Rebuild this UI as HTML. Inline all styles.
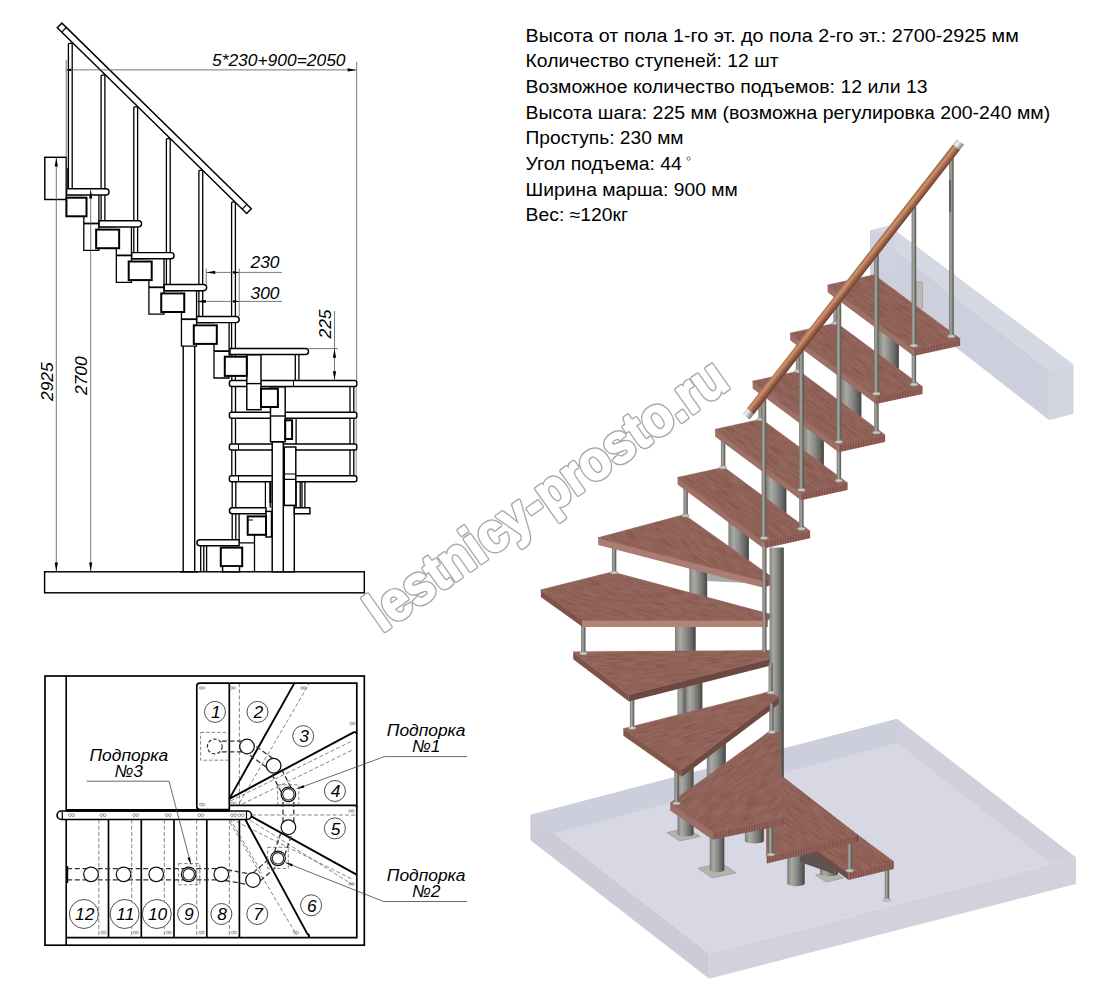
<!DOCTYPE html>
<html><head><meta charset="utf-8"><title>Лестница</title>
<style>
html,body{margin:0;padding:0;background:#fff;}
body{width:1094px;height:993px;overflow:hidden;font-family:"Liberation Sans",sans-serif;}
svg{display:block;}
text{font-family:"Liberation Sans",sans-serif;}
</style></head><body>
<svg width="1094" height="993" viewBox="0 0 1094 993">
<rect width="1094" height="993" fill="#fff"/>
<defs>
<linearGradient id="cyl" x1="0" y1="0" x2="1" y2="0"><stop offset="0" stop-color="#7e7e7a"/><stop offset="0.25" stop-color="#aaaaa5"/><stop offset="0.5" stop-color="#8f8f8b"/><stop offset="0.8" stop-color="#676764"/><stop offset="1" stop-color="#444442"/></linearGradient>
<linearGradient id="bal" x1="0" y1="0" x2="1" y2="0"><stop offset="0" stop-color="#72726e"/><stop offset="0.4" stop-color="#a9a9a3"/><stop offset="0.7" stop-color="#7a7a76"/><stop offset="1" stop-color="#4d4d4a"/></linearGradient>
<linearGradient id="rail" gradientUnits="userSpaceOnUse" x1="956.4" y1="139.6" x2="963.8" y2="145.4"><stop offset="0" stop-color="#8c5640"/><stop offset="0.33" stop-color="#d0956c"/><stop offset="0.6" stop-color="#a96a50"/><stop offset="1" stop-color="#6f3f2e"/></linearGradient>
<linearGradient id="cap" gradientUnits="userSpaceOnUse" x1="956.4" y1="139.6" x2="963.8" y2="145.4"><stop offset="0" stop-color="#b8b8b4"/><stop offset="0.35" stop-color="#f2f2ee"/><stop offset="1" stop-color="#7e7e7a"/></linearGradient>
<linearGradient id="woodg" x1="0" y1="0" x2="1" y2="1"><stop offset="0" stop-color="#976a62"/><stop offset="1" stop-color="#90635b"/></linearGradient>
<filter id="wood" x="0" y="0" width="100%" height="100%" color-interpolation-filters="sRGB"><feTurbulence type="fractalNoise" baseFrequency="0.06 0.7" numOctaves="2" seed="4" result="n"/><feColorMatrix in="n" type="matrix" values="0 0 0 0 0.48  0 0 0 0 0.30  0 0 0 0 0.22  0 0 0 1.5 -0.6" result="sp"/><feComposite in="sp" in2="SourceGraphic" operator="in" result="sp2"/><feMerge><feMergeNode in="SourceGraphic"/><feMergeNode in="sp2"/></feMerge></filter>
<pattern id="grain" width="2.6" height="8" patternUnits="userSpaceOnUse"><rect width="2.6" height="8" fill="#94625a"/><rect width="1" height="8" fill="#7c4e46"/></pattern>
<clipPath id="floorclip"><polygon points="530.3,814.8 897.1,718.7 1076,857.5 709.2,953.6"/></clipPath>
<clipPath id="tipclip"><rect x="764" y="680" width="30" height="170"/></clipPath>
</defs>
<g id="v3d" shape-rendering="geometricPrecision">
<polygon points="870.1,230.2 1049.3,370.3 1049.3,420.3 870.1,280.4" fill="#cdcfdd"/>
<polygon points="870.1,230.2 888.7,225.4 1073.5,364.3 1049.3,370.3" fill="#d5d7e3"/>
<polygon points="1049.3,370.3 1073.5,364.3 1073.5,413.8 1049.3,420.3" fill="#d2d4de"/>
<polygon points="870.1,230.2 894.7,236.5 894.7,272.5 870.1,272.5" fill="#cfd2e0"/>
<rect x="916.4" y="282" width="6.2" height="26" fill="#b9b9b5" stroke="#8d8d89" stroke-width="0.5"/>
<polygon points="530.3,814.8 709.2,953.6 709.2,978.7 530.3,839.9" fill="#cbccd8"/>
<polygon points="709.2,953.6 1076,857.5 1076,884 709.2,978.7" fill="#d1d2dc"/>
<polygon points="530.3,814.8 897.1,718.7 1076,857.5 709.2,953.6" fill="#d7d8e3"/>
<g clip-path="url(#floorclip)">
<polygon points="530.3,814.8 897.1,718.7 897.1,742.7 530.3,839.8" fill="#cdcedb"/>
<polygon points="897.1,718.7 1076,857.5 1076,883.5 897.1,742.7" fill="#cfd0dc"/>
</g>
<polygon points="667,832.5 687.5,828 700,836.5 679.5,841" fill="#b4b4ae" stroke="#8e8e88" stroke-width="0.6"/>
<polygon points="698,868.2 721.6,863 736,872.8 712.4,878" fill="#b4b4ae" stroke="#8e8e88" stroke-width="0.6"/>
<polygon points="815.5,874.9 832.9,871 843.5,878.1 826.1,882" fill="#b4b4ae" stroke="#8e8e88" stroke-width="0.6"/>
<path d="M820 866V874A9 2 0 0 0 838 874V866Z" fill="url(#cyl)"/>
<path d="M787.2 835V884A8.8 2.5 0 0 0 804.7 884V835Z" fill="url(#cyl)"/>
<path d="M677.5 760V834.5A8.1 2.2 0 0 0 693.6 834.5V760Z" fill="url(#cyl)"/>
<path d="M709.7 815V870A7.3 2.2 0 0 0 724.3 870V815Z" fill="url(#cyl)"/>
<path d="M744.8 815V841A9.5 2.5 0 0 0 763.8 841V815Z" fill="url(#cyl)"/>
<rect x="706.8" y="725" width="19" height="67" fill="url(#cyl)"/>
<rect x="677.5" y="662" width="9" height="64" fill="url(#cyl)"/>
<rect x="685.5" y="662" width="16.9" height="64" fill="url(#cyl)"/>
<rect x="675" y="603" width="20.7" height="65" fill="url(#cyl)"/>
<rect x="689.3" y="548" width="17.9" height="64" fill="url(#cyl)"/>
<polygon points="707.2,571.5 742,578.5 758,583.5 707.2,581" fill="#a9a9a4"/>
<rect x="878.4" y="310.1" width="20.5" height="77" fill="url(#cyl)"/>
<rect x="840.9" y="358.2" width="20.5" height="77" fill="url(#cyl)"/>
<rect x="803.4" y="406.3" width="20.5" height="77" fill="url(#cyl)"/>
<rect x="765.9" y="454.4" width="20.5" height="77" fill="url(#cyl)"/>
<rect x="728.4" y="502.5" width="20.5" height="77" fill="url(#cyl)"/>
<rect x="884.8" y="868" width="4.4" height="32" fill="url(#bal)"/><ellipse cx="887" cy="900" rx="3.8" ry="1.6" fill="#c9c9c4" stroke="#8a8a86" stroke-width="0.5"/>
<polygon points="800,840 834,866 834,874 800,862" fill="#5d5350"/>
<polygon points="762.6,809.1 848.6,872.9 848.6,880 762.6,816.2" fill="#6b4c47"/><polygon points="848.6,872.9 893.9,861.8 893.9,868.9 848.6,880" fill="url(#grain)"/><polygon points="762.6,809.1 807.9,798 893.9,861.8 848.6,872.9" fill="#94675f" stroke="#94675f" stroke-width="0.7"/><g transform="rotate(36.6)"><polygon points="1094.5,195.4 1124.3,159.5 1231.4,159.5 1201.6,195.4" fill="#94675f" filter="url(#wood)"/></g><path d="M774.8 806.1L860.8 869.9" stroke="#7a4a44" stroke-opacity="0.35" stroke-width="0.8"/><path d="M786.2 803.3L872.2 867.1" stroke="#7a4a44" stroke-opacity="0.35" stroke-width="0.8"/><path d="M797 800.7L883 864.5" stroke="#7a4a44" stroke-opacity="0.35" stroke-width="0.8"/>
<rect x="847.6" y="842" width="4.4" height="28.6" fill="url(#bal)"/><ellipse cx="849.8" cy="870.6" rx="3.8" ry="1.6" fill="#c9c9c4" stroke="#8a8a86" stroke-width="0.5"/>
<polygon points="766.7,856.5 857.4,834.9 857.4,842 766.7,863.6" fill="url(#grain)"/><polygon points="766.7,812 766.7,856.5 766.7,863.6 766.7,819.1" fill="#9d6f67"/><polygon points="766.7,812 782.8,777 857.4,834.9 766.7,856.5" fill="#94675f" stroke="#94675f" stroke-width="0.7"/><g transform="rotate(37.8)"><polygon points="1103.5,171.4 1094.8,133.9 1189.2,133.9 1130.8,206.5" fill="#94675f" filter="url(#wood)"/></g>
<path d="M857.4 834.9V842" stroke="#5c3b37" stroke-width="1"/>
<rect x="768.6" y="824" width="4.4" height="30.5" fill="url(#bal)"/><ellipse cx="770.8" cy="854.5" rx="3.8" ry="1.6" fill="#c9c9c4" stroke="#8a8a86" stroke-width="0.5"/>
<polygon points="670.2,803.3 712.6,832.6 712.6,839.7 670.2,810.4" fill="#9d6f67"/><polygon points="712.6,832.6 782.8,818 782.8,825.1 712.6,839.7" fill="url(#grain)"/><polygon points="670.2,803.3 769.6,731.7 779,733.1 782.8,818 712.6,832.6" fill="#94675f" stroke="#94675f" stroke-width="0.7"/><g transform="rotate(-35.8)"><polygon points="74.3,1043.5 196.8,1043.5 203.6,1050.2 157.1,1121.3 91.6,1092.1" fill="#94675f" filter="url(#wood)"/></g>
<path d="M779 733.1L782.8 818V824.6" stroke="#5c3b37" stroke-width="1" fill="none"/>
<rect x="674.3" y="772" width="4.4" height="31.3" fill="url(#bal)"/><ellipse cx="676.5" cy="803.3" rx="3.8" ry="1.6" fill="#c9c9c4" stroke="#8a8a86" stroke-width="0.5"/>
<polygon points="623.4,728.7 681.9,769.7 681.9,776.8 623.4,735.8" fill="#83564d"/><polygon points="681.9,769.7 779,696.6 779,703.7 681.9,776.8" fill="#714943"/><polygon points="623.4,728.7 768.2,692.2 779,696.6 681.9,769.7" fill="#94675f" stroke="#94675f" stroke-width="0.7"/><g transform="rotate(-14.1)"><polygon points="426.4,859 575.7,859 585.1,865.9 473.1,913" fill="#94675f" filter="url(#wood)"/></g>
<rect x="629.9" y="699" width="4.4" height="28.9" fill="url(#bal)"/><ellipse cx="632.1" cy="727.9" rx="3.8" ry="1.6" fill="#c9c9c4" stroke="#8a8a86" stroke-width="0.5"/>
<polygon points="573.2,652.1 628.9,694.5 628.9,701.6 573.2,659.2" fill="#80534a"/><polygon points="628.9,694.5 776.1,657.2 776.1,664.3 628.9,701.6" fill="#6f4741"/><polygon points="573.2,652.1 775.3,650.8 776.1,657.2 628.9,694.5" fill="#94675f" stroke="#94675f" stroke-width="0.7"/><g transform="rotate(-0.4)"><polygon points="568.9,655.8 771.1,655.8 771.8,662.2 624.4,698.6" fill="#94675f" filter="url(#wood)"/></g>
<rect x="581.1" y="625" width="4.4" height="28.4" fill="url(#bal)"/><ellipse cx="583.3" cy="653.4" rx="3.8" ry="1.6" fill="#c9c9c4" stroke="#8a8a86" stroke-width="0.5"/>
<polygon points="540.8,589.9 582.7,620 582.7,627.1 540.8,597" fill="#80534a"/><polygon points="582.7,620 768,620 768,627.1 582.7,627.1" fill="#b48472"/><polygon points="540.8,589.9 612.2,572 772.7,614.9 768,620 582.7,620" fill="#94675f" stroke="#94675f" stroke-width="0.7"/><g transform="rotate(15)"><polygon points="674.8,430.2 739.1,394.5 905.3,394.5 902.1,400.7 723,448.5" fill="#94675f" filter="url(#wood)"/></g>
<rect x="611.9" y="545" width="4.4" height="27.5" fill="url(#bal)"/><ellipse cx="614.1" cy="572.5" rx="3.8" ry="1.6" fill="#c9c9c4" stroke="#8a8a86" stroke-width="0.5"/>
<polygon points="598.1,537.8 762.5,580.5 762.5,587.6 598.1,544.9" fill="#ab7d72"/><polygon points="762.5,580.5 772.7,577.6 772.7,584.7 762.5,587.6" fill="url(#grain)"/><polygon points="598.1,537.8 684.1,514.7 772.7,577.6 762.5,580.5" fill="#94675f" stroke="#94675f" stroke-width="0.7"/><g transform="rotate(35.4)"><polygon points="799,92.3 855.8,23.7 964.4,23.7 957.8,31.9" fill="#94675f" filter="url(#wood)"/></g>
<rect x="683.4" y="483.5" width="4.4" height="32" fill="url(#bal)"/><ellipse cx="685.6" cy="515.5" rx="3.8" ry="1.6" fill="#c9c9c4" stroke="#8a8a86" stroke-width="0.5"/>
<polygon points="677.6,477.5 763.6,541.3 763.6,548.4 677.6,484.6" fill="#9d6f67"/><polygon points="763.6,541.3 810.1,531.1 810.1,538.2 763.6,548.4" fill="url(#grain)"/><polygon points="677.6,477.5 724.1,467.3 810.1,531.1 763.6,541.3" fill="#94675f" stroke="#94675f" stroke-width="0.7"/><g transform="rotate(36.6)"><polygon points="828.7,-20.2 860,-56.1 967,-56.1 935.8,-20.2" fill="#94675f" filter="url(#wood)"/></g><path d="M690.2 474.7L776.2 538.5" stroke="#7a4a44" stroke-opacity="0.35" stroke-width="0.8"/><path d="M701.8 472.2L787.8 536" stroke="#7a4a44" stroke-opacity="0.35" stroke-width="0.8"/><path d="M712.9 469.7L798.9 533.5" stroke="#7a4a44" stroke-opacity="0.35" stroke-width="0.8"/>
<rect x="720.9" y="435.4" width="4.4" height="32" fill="url(#bal)"/><ellipse cx="723.1" cy="467.4" rx="3.8" ry="1.6" fill="#c9c9c4" stroke="#8a8a86" stroke-width="0.5"/>
<rect x="799.2" y="497.2" width="4.4" height="31.5" fill="url(#bal)"/><ellipse cx="801.4" cy="528.7" rx="3.8" ry="1.6" fill="#c9c9c4" stroke="#8a8a86" stroke-width="0.5"/>
<polygon points="715.1,429.4 801.1,493.2 801.1,500.3 715.1,436.5" fill="#9d6f67"/><polygon points="801.1,493.2 847.6,483 847.6,490.1 801.1,500.3" fill="url(#grain)"/><polygon points="715.1,429.4 761.6,419.2 847.6,483 801.1,493.2" fill="#94675f" stroke="#94675f" stroke-width="0.7"/><g transform="rotate(36.6)"><polygon points="830.2,-81.2 861.4,-117.1 968.5,-117.1 937.2,-81.2" fill="#94675f" filter="url(#wood)"/></g><path d="M727.7 426.6L813.7 490.4" stroke="#7a4a44" stroke-opacity="0.35" stroke-width="0.8"/><path d="M739.3 424.1L825.3 487.9" stroke="#7a4a44" stroke-opacity="0.35" stroke-width="0.8"/><path d="M750.4 421.6L836.4 485.4" stroke="#7a4a44" stroke-opacity="0.35" stroke-width="0.8"/>
<rect x="758.4" y="387.3" width="4.4" height="32" fill="url(#bal)"/><ellipse cx="760.6" cy="419.3" rx="3.8" ry="1.6" fill="#c9c9c4" stroke="#8a8a86" stroke-width="0.5"/>
<rect x="836.7" y="449.1" width="4.4" height="31.5" fill="url(#bal)"/><ellipse cx="838.9" cy="480.6" rx="3.8" ry="1.6" fill="#c9c9c4" stroke="#8a8a86" stroke-width="0.5"/>
<polygon points="752.6,381.3 838.6,445.1 838.6,452.2 752.6,388.4" fill="#9d6f67"/><polygon points="838.6,445.1 885.1,434.9 885.1,442 838.6,452.2" fill="url(#grain)"/><polygon points="752.6,381.3 799.1,371.1 885.1,434.9 838.6,445.1" fill="#94675f" stroke="#94675f" stroke-width="0.7"/><g transform="rotate(36.6)"><polygon points="831.6,-142.2 862.9,-178.1 970,-178.1 938.7,-142.2" fill="#94675f" filter="url(#wood)"/></g><path d="M765.2 378.5L851.2 442.3" stroke="#7a4a44" stroke-opacity="0.35" stroke-width="0.8"/><path d="M776.8 376L862.8 439.8" stroke="#7a4a44" stroke-opacity="0.35" stroke-width="0.8"/><path d="M787.9 373.5L873.9 437.3" stroke="#7a4a44" stroke-opacity="0.35" stroke-width="0.8"/>
<rect x="795.9" y="339.2" width="4.4" height="32" fill="url(#bal)"/><ellipse cx="798.1" cy="371.2" rx="3.8" ry="1.6" fill="#c9c9c4" stroke="#8a8a86" stroke-width="0.5"/>
<rect x="874.2" y="401" width="4.4" height="31.5" fill="url(#bal)"/><ellipse cx="876.4" cy="432.5" rx="3.8" ry="1.6" fill="#c9c9c4" stroke="#8a8a86" stroke-width="0.5"/>
<polygon points="790.1,333.2 876.1,397 876.1,404.1 790.1,340.3" fill="#9d6f67"/><polygon points="876.1,397 922.6,386.8 922.6,393.9 876.1,404.1" fill="url(#grain)"/><polygon points="790.1,333.2 836.6,323 922.6,386.8 876.1,397" fill="#94675f" stroke="#94675f" stroke-width="0.7"/><g transform="rotate(36.6)"><polygon points="833.1,-203.1 864.3,-239 971.4,-239 940.2,-203.1" fill="#94675f" filter="url(#wood)"/></g><path d="M802.7 330.4L888.7 394.2" stroke="#7a4a44" stroke-opacity="0.35" stroke-width="0.8"/><path d="M814.3 327.9L900.3 391.7" stroke="#7a4a44" stroke-opacity="0.35" stroke-width="0.8"/><path d="M825.4 325.4L911.4 389.2" stroke="#7a4a44" stroke-opacity="0.35" stroke-width="0.8"/>
<rect x="833.4" y="291.1" width="4.4" height="32" fill="url(#bal)"/><ellipse cx="835.6" cy="323.1" rx="3.8" ry="1.6" fill="#c9c9c4" stroke="#8a8a86" stroke-width="0.5"/>
<rect x="911.7" y="352.9" width="4.4" height="31.5" fill="url(#bal)"/><ellipse cx="913.9" cy="384.4" rx="3.8" ry="1.6" fill="#c9c9c4" stroke="#8a8a86" stroke-width="0.5"/>
<polygon points="827.6,285.1 913.6,348.9 913.6,356 827.6,292.2" fill="#9d6f67"/><polygon points="913.6,348.9 960.1,338.7 960.1,345.8 913.6,356" fill="url(#grain)"/><polygon points="827.6,285.1 874.1,274.9 960.1,338.7 913.6,348.9" fill="#94675f" stroke="#94675f" stroke-width="0.7"/><g transform="rotate(36.6)"><polygon points="834.5,-264.1 865.8,-300 972.9,-300 941.6,-264.1" fill="#94675f" filter="url(#wood)"/></g><path d="M840.2 282.3L926.2 346.1" stroke="#7a4a44" stroke-opacity="0.35" stroke-width="0.8"/><path d="M851.8 279.8L937.8 343.6" stroke="#7a4a44" stroke-opacity="0.35" stroke-width="0.8"/><path d="M862.9 277.3L948.9 341.1" stroke="#7a4a44" stroke-opacity="0.35" stroke-width="0.8"/>
<rect x="762.3" y="546" width="4.2" height="106" fill="url(#bal)"/>
<rect x="769.6" y="547.5" width="14.2" height="230" fill="url(#cyl)"/>
<g clip-path="url(#tipclip)">
<polygon points="670.2,803.3 712.6,832.6 712.6,839.7 670.2,810.4" fill="#9d6f67"/><polygon points="712.6,832.6 782.8,818 782.8,825.1 712.6,839.7" fill="url(#grain)"/><polygon points="670.2,803.3 769.6,731.7 779,733.1 782.8,818 712.6,832.6" fill="#94675f" stroke="#94675f" stroke-width="0.7"/><g transform="rotate(-35.8)"><polygon points="74.3,1043.5 196.8,1043.5 203.6,1050.2 157.1,1121.3 91.6,1092.1" fill="#94675f" filter="url(#wood)"/></g>
<polygon points="623.4,728.7 681.9,769.7 681.9,776.8 623.4,735.8" fill="#83564d"/><polygon points="681.9,769.7 779,696.6 779,703.7 681.9,776.8" fill="#714943"/><polygon points="623.4,728.7 768.2,692.2 779,696.6 681.9,769.7" fill="#94675f" stroke="#94675f" stroke-width="0.7"/><g transform="rotate(-14.1)"><polygon points="426.4,859 575.7,859 585.1,865.9 473.1,913" fill="#94675f" filter="url(#wood)"/></g>
</g>
<rect x="768.6" y="663" width="4" height="29.5" fill="url(#bal)"/><ellipse cx="770.6" cy="692.5" rx="3.8" ry="1.6" fill="#c9c9c4" stroke="#8a8a86" stroke-width="0.5"/>
<rect x="769.6" y="703.5" width="4" height="28.5" fill="url(#bal)"/><ellipse cx="771.6" cy="732" rx="3.8" ry="1.6" fill="#c9c9c4" stroke="#8a8a86" stroke-width="0.5"/>
<rect x="911.6" y="207" width="4.6" height="138.6" fill="url(#bal)"/><ellipse cx="913.9" cy="345.6" rx="3.8" ry="1.6" fill="#c9c9c4" stroke="#8a8a86" stroke-width="0.5"/>
<rect x="874.1" y="254.4" width="4.6" height="139.3" fill="url(#bal)"/><ellipse cx="876.4" cy="393.7" rx="3.8" ry="1.6" fill="#c9c9c4" stroke="#8a8a86" stroke-width="0.5"/>
<rect x="836.6" y="301.9" width="4.6" height="139.9" fill="url(#bal)"/><ellipse cx="838.9" cy="441.8" rx="3.8" ry="1.6" fill="#c9c9c4" stroke="#8a8a86" stroke-width="0.5"/>
<rect x="799.1" y="349.4" width="4.6" height="140.6" fill="url(#bal)"/><ellipse cx="801.4" cy="489.9" rx="3.8" ry="1.6" fill="#c9c9c4" stroke="#8a8a86" stroke-width="0.5"/>
<rect x="761.6" y="396.8" width="4.6" height="141.2" fill="url(#bal)"/><ellipse cx="763.9" cy="538" rx="3.8" ry="1.6" fill="#c9c9c4" stroke="#8a8a86" stroke-width="0.5"/>
<rect x="949.1" y="158" width="4.6" height="178.2" fill="url(#bal)"/><ellipse cx="951.4" cy="336.2" rx="3.8" ry="1.6" fill="#c9c9c4" stroke="#8a8a86" stroke-width="0.5"/>
<rect x="949.2" y="180" width="1.6" height="32" fill="#55555a"/>
<path d="M960.6 141.9L746.2 416.8" stroke="url(#cap)" stroke-width="8.8" fill="none"/>
<path d="M956.3 147.4L750.5 411.3" stroke="url(#rail)" stroke-width="8.8" fill="none"/>
</g>
<g id="info" font-family="Liberation Sans, sans-serif" font-size="18" fill="#000">
<text x="525.6" y="41.5" textLength="493.1" lengthAdjust="spacingAndGlyphs">Высота от пола 1-го эт. до пола 2-го эт.: 2700-2925 мм</text>
<text x="525.6" y="67.2" textLength="252.9" lengthAdjust="spacingAndGlyphs">Количество ступеней: 12 шт</text>
<text x="525.6" y="92.8" textLength="402.0" lengthAdjust="spacingAndGlyphs">Возможное количество подъемов: 12 или 13</text>
<text x="525.6" y="118.5" textLength="524.6" lengthAdjust="spacingAndGlyphs">Высота шага: 225 мм (возможна регулировка 200-240 мм)</text>
<text x="525.6" y="144.2" textLength="157.9" lengthAdjust="spacingAndGlyphs">Проступь: 230 мм</text>
<text x="525.6" y="169.9" textLength="156.3" lengthAdjust="spacingAndGlyphs">Угол подъема: 44</text>
<text x="525.6" y="195.5" textLength="212.2" lengthAdjust="spacingAndGlyphs">Ширина марша: 900 мм</text>
<text x="525.6" y="221.2" textLength="102.5" lengthAdjust="spacingAndGlyphs">Вес: ≈120кг</text>
<circle cx="688.6" cy="158.6" r="1.7" fill="none" stroke="#333" stroke-width="0.7"/>
</g>
<g id="wm" transform="translate(381.9,633.1) rotate(-35.2)">
<text x="0" y="0" font-family="Liberation Sans, sans-serif" font-weight="bold" font-size="55" textLength="428" lengthAdjust="spacingAndGlyphs" stroke-linejoin="round" fill="#a9a9a9" stroke="#a9a9a9" stroke-width="4.6">lestnicy-prosto.ru</text>
<text x="0" y="0" font-family="Liberation Sans, sans-serif" font-weight="bold" font-size="55" textLength="428" lengthAdjust="spacingAndGlyphs" stroke-linejoin="round" fill="#fff" stroke="#fff" stroke-width="1.7">lestnicy-prosto.ru</text>
</g>
<g id="elev" stroke-linejoin="miter">
<rect x="44.6" y="571.8" width="319.7" height="21" stroke="#000" stroke-width="1.45" fill="#fff"/>
<rect x="44.8" y="157.3" width="21.5" height="42.2" stroke="#000" stroke-width="1.45" fill="#fff"/>
<path d="M183.2 346V571.8M194.7 346V571.8" stroke="#000" stroke-width="1.4" fill="none"/>
<path d="M180 571.8H198" stroke="#000" stroke-width="1.6"/>
<path d="M68.4 43.4V188.8M72.2 43.4V188.8M68.4 43.4H72.2" stroke="#000" stroke-width="1.3" fill="none"/>
<path d="M101.1 75.15V220.7M104.9 75.15V220.7M101.1 75.15H104.9" stroke="#000" stroke-width="1.3" fill="none"/>
<path d="M133.8 106.9V252.6M137.6 106.9V252.6M133.8 106.9H137.6" stroke="#000" stroke-width="1.3" fill="none"/>
<path d="M166.4 138.65V284.5M170.2 138.65V284.5M166.4 138.65H170.2" stroke="#000" stroke-width="1.3" fill="none"/>
<path d="M198.9 170.4V316.4M202.7 170.4V316.4M198.9 170.4H202.7" stroke="#000" stroke-width="1.3" fill="none"/>
<path d="M231.6 202.15V348.3M235.4 202.15V348.3M231.6 202.15H235.4" stroke="#000" stroke-width="1.3" fill="none"/>
<path d="M67 168V189" stroke="#000" stroke-width="1.6"/>
<polygon points="61.91,23.14 251.31,208.74 246.69,213.46 57.29,27.86" stroke="#000" stroke-width="1.45" fill="#fff"/>
<path d="M66.34 27.48L61.72 32.2" stroke="#000" stroke-width="1.2"/>
<path d="M246.88 204.4L242.26 209.12" stroke="#000" stroke-width="1.2"/>
<path d="M83.8 216.5V250.4H98.9V195" stroke="#000" stroke-width="1.3" fill="#fff"/>
<path d="M83.8 223.5H98.9" stroke="#000" stroke-width="1.8"/>
<rect x="67.4" y="195.2" width="16" height="1.8" fill="#999" stroke="none"/>
<rect x="66.4" y="197.7" width="20.1" height="18.6" stroke="#000" stroke-width="2" fill="#fff"/>
<rect x="67.4" y="195.6" width="16" height="1.3" fill="#aaa" stroke="none"/>
<path d="M116.35 248.4V282.3H131.45V226.9" stroke="#000" stroke-width="1.3" fill="#fff"/>
<path d="M116.35 255.4H131.45" stroke="#000" stroke-width="1.8"/>
<rect x="99.95" y="227.1" width="16" height="1.8" fill="#999" stroke="none"/>
<rect x="96.15" y="229.6" width="23" height="18.6" stroke="#000" stroke-width="2" fill="#fff"/>
<rect x="99.95" y="227.5" width="16" height="1.3" fill="#aaa" stroke="none"/>
<path d="M148.9 280.3V314.2H164V258.8" stroke="#000" stroke-width="1.3" fill="#fff"/>
<path d="M148.9 287.3H164" stroke="#000" stroke-width="1.8"/>
<rect x="132.5" y="259" width="16" height="1.8" fill="#999" stroke="none"/>
<rect x="128.7" y="261.5" width="23" height="18.6" stroke="#000" stroke-width="2" fill="#fff"/>
<rect x="132.5" y="259.4" width="16" height="1.3" fill="#aaa" stroke="none"/>
<path d="M181.45 312.2V346.1H196.55V290.7" stroke="#000" stroke-width="1.3" fill="#fff"/>
<path d="M181.45 319.2H196.55" stroke="#000" stroke-width="1.8"/>
<rect x="165.05" y="290.9" width="16" height="1.8" fill="#999" stroke="none"/>
<rect x="161.25" y="293.4" width="23" height="18.6" stroke="#000" stroke-width="2" fill="#fff"/>
<rect x="165.05" y="291.3" width="16" height="1.3" fill="#aaa" stroke="none"/>
<path d="M214 344.1V378H229.1V322.6" stroke="#000" stroke-width="1.3" fill="#fff"/>
<path d="M214 351.1H229.1" stroke="#000" stroke-width="1.8"/>
<rect x="197.6" y="322.8" width="16" height="1.8" fill="#999" stroke="none"/>
<rect x="193.8" y="325.3" width="23" height="18.6" stroke="#000" stroke-width="2" fill="#fff"/>
<rect x="197.6" y="323.2" width="16" height="1.3" fill="#aaa" stroke="none"/>
<path d="M66.6 188.8H105.9a3.1 3.1 0 0 1 0 6.2H66.6Z" stroke="#000" stroke-width="1.45" fill="#fff"/>
<path d="M99.15 220.7H138.45a3.1 3.1 0 0 1 0 6.2H99.15Z" stroke="#000" stroke-width="1.45" fill="#fff"/>
<path d="M131.7 252.6H171a3.1 3.1 0 0 1 0 6.2H131.7Z" stroke="#000" stroke-width="1.45" fill="#fff"/>
<path d="M164.25 284.5H203.55a3.1 3.1 0 0 1 0 6.2H164.25Z" stroke="#000" stroke-width="1.45" fill="#fff"/>
<path d="M196.8 316.4H236.1a3.1 3.1 0 0 1 0 6.2H196.8Z" stroke="#000" stroke-width="1.45" fill="#fff"/>
<path d="M231.8 386.5V412.3M235.5 386.5V412.3M350 386.5V412.3M353.8 386.5V412.3M231.8 418.3V444M235.5 418.3V444M350 418.3V444M353.8 418.3V444M231.8 450V475.8M235.5 450V475.8M350 450V475.8M353.8 450V475.8M232.2 481.8V507.7M235.8 481.8V507.7M232.2 513.7V539.7M235.8 513.7V539.7M231.8 354.5V380.5M235.4 354.5V380.5M295.3 354.5V380.5M298.9 354.5V380.5M296.1 481.8V507.7M300.2 481.8V507.7M302 481.8V507.7M304.9 481.8V507.7M200.7 545.8V571.8M203.8 545.8V571.8M206.6 545.8V571.8" stroke="#000" stroke-width="1.3" fill="none"/>
<path d="M356.2 386.5V475.8" stroke="#777" stroke-width="0.8"/>
<path d="M230 348.5H305.5a3 3 0 0 1 0 6H230Z" stroke="#000" stroke-width="1.45" fill="#fff"/>
<rect x="229.4" y="380.5" width="127.4" height="6" rx="2" ry="2" stroke="#000" stroke-width="1.45" fill="#fff"/>
<rect x="229.4" y="412.3" width="127.4" height="6" rx="2" ry="2" stroke="#000" stroke-width="1.45" fill="#fff"/>
<rect x="229.4" y="444" width="127.4" height="6" rx="2" ry="2" stroke="#000" stroke-width="1.45" fill="#fff"/>
<rect x="229.4" y="475.8" width="127.4" height="6" rx="2" ry="2" stroke="#000" stroke-width="1.45" fill="#fff"/>
<path d="M293.5 380.5V386.5" stroke="#000" stroke-width="1"/>
<rect x="246.8" y="354.9" width="14.2" height="54.8" stroke="#000" stroke-width="1.45" fill="#fff"/>
<path d="M246.8 383.6H261" stroke="#000" stroke-width="1.4"/>
<rect x="224.8" y="356.7" width="22" height="19.2" stroke="#000" stroke-width="2" fill="#fff"/>
<rect x="270.5" y="386.9" width="14.7" height="54.8" stroke="#000" stroke-width="1.45" fill="#fff"/>
<path d="M270.5 416H285.2" stroke="#000" stroke-width="1.4"/>
<rect x="261" y="388.7" width="16.9" height="18.3" stroke="#000" stroke-width="2" fill="#fff"/>
<rect x="285.2" y="420.3" width="6.9" height="18.7" stroke="#000" stroke-width="2" fill="#fff"/>
<path d="M296.1 418.5V444" stroke="#000" stroke-width="1.3"/>
<rect x="284.3" y="447" width="11.5" height="58.5" stroke="#000" stroke-width="1.45" fill="#fff"/>
<path d="M284.3 474H295.8M284.3 479.4H295.8" stroke="#000" stroke-width="1.2"/>
<rect x="283.3" y="505.5" width="11" height="66.3" stroke="#000" stroke-width="1.45" fill="#fff"/>
<rect x="272.2" y="442" width="11.1" height="129.8" stroke="#000" stroke-width="1.45" fill="#fff"/>
<path d="M265.4 481.8V507.7M270.2 481.8V507.7" stroke="#000" stroke-width="1.2"/>
<path d="M270.4 483V503" stroke="#000" stroke-width="2"/>
<path d="M238.5 444V450M238.5 475.8V481.8M238.5 507.7V513.7" stroke="#000" stroke-width="1"/>
<path d="M266 507.7H232.4a3 3 0 0 0 0 6H266Z" stroke="#000" stroke-width="1.45" fill="#fff"/>
<path d="M294.3 507.7H309.9V513.8H294.3Z" stroke="#000" stroke-width="1.45" fill="#fff"/>
<rect x="266" y="511.4" width="5.5" height="25.6" stroke="#000" stroke-width="1.45" fill="#fff"/>
<path d="M239.1 513.8V542.9H254.5M254.5 534.8V571.8" stroke="#000" stroke-width="1.3" fill="none"/>
<rect x="247.7" y="516.4" width="18.3" height="18.4" stroke="#000" stroke-width="2" fill="#fff"/>
<path d="M247.7 520H253" stroke="#000" stroke-width="1"/>
<path d="M239.1 539.7H200a3 3 0 0 0 0 6.1H239.1Z" stroke="#000" stroke-width="1.45" fill="#fff"/>
<rect x="220.8" y="547.6" width="21.4" height="18.6" stroke="#000" stroke-width="2" fill="#fff"/>
<rect x="222.6" y="566.2" width="16.9" height="5.6" stroke="#000" stroke-width="1.45" fill="#fff"/>
<g stroke="#555" stroke-width="0.8" fill="none">
<path d="M66.2 69.9H356.6"/>
<path d="M66.2 60V189"/>
<path d="M356.7 62V380.5"/>
<path d="M56.3 157.5V571.5"/>
<path d="M90.7 190V571.5"/>
<path d="M206.2 272.4H282"/><path d="M206.2 268.5V284.5"/><path d="M239.2 268.5V316.5"/>
<path d="M196.8 301.4H282"/>
<path d="M308.6 348.6H338"/><path d="M334.5 311V380.5"/>
</g>
<g fill="#000" stroke="none">
<path d="M356.6 69.9l-9 -1.6v3.2z"/>
<path d="M66.2 69.9l5 -1.3v2.6z"/>
<path d="M56.3 157.5l-1.6 9h3.2z"/><path d="M56.3 571.5l-1.6 -9h3.2z"/>
<path d="M90.7 189.5l-1.6 9h3.2z"/><path d="M90.7 571.5l-1.6 -9h3.2z"/>
<path d="M206.2 272.4l9 -1.6v3.2z"/><path d="M239.2 272.4l-6 -1.4v2.8z"/>
<path d="M196.8 301.4l9 -1.6v3.2z"/><path d="M239.2 301.4l-6 -1.4v2.8z"/>
<path d="M334.5 348.8l-1.6 9h3.2z"/><path d="M334.5 380.3l-1.6 -9h3.2z"/>
</g>
<g font-family="Liberation Sans, sans-serif" font-style="italic" font-size="17.4" fill="#000">
<text x="212" y="66">5*230+900=2050</text>
<text x="250.5" y="268">230</text>
<text x="250.5" y="298.5">300</text>
<text transform="translate(331,338.5) rotate(-90)">225</text>
<text transform="translate(52.5,401) rotate(-90)">2925</text>
<text transform="translate(86.8,395) rotate(-90)">2700</text>
</g>
</g>
<g id="plan" fill="none" stroke="#000" stroke-linecap="butt">
<rect x="45" y="676" width="319.3" height="269.2" stroke-width="1.7"/>
<path d="M66.2 676V945.2" stroke-width="1.6"/>
<g stroke="#666" stroke-width="0.8" stroke-dasharray="4 2.2">
<path d="M98.8 819.5V937.7"/>
<path d="M131.7 819.5V937.7"/>
<path d="M164.3 819.5V937.7"/>
<path d="M196.7 819.5V937.7"/>
<path d="M229.4 819.5V937.7"/>
<path d="M239.4 683.1V805"/>
<path d="M252 815H356.8"/>
<path d="M239.4 803L308.9 684.1"/>
<path d="M242.4 804L353.2 749.6"/>
<path d="M230.5 801L352 741"/>
<path d="M230 822.3L296.6 935.1"/>
<path d="M250.2 820.3L353 884.8"/>
<path d="M231 819L352 879"/>
<path d="M230 819L262 873"/>
</g>
<path d="M229.3 683.1H199.8a3 3 0 0 0 -3 3V806.6a3 3 0 0 0 3 3H229.3" stroke-width="1.7"/>
<path d="M229.3 683.1H356.8V937.7H66.2" stroke-width="1.7"/>
<path d="M229.3 683.1V810" stroke-width="1.7"/>
<path d="M229.3 798.9L294.4 683.1" stroke-width="1.9"/>
<path d="M229.3 798.9L353.5 732.3a2.5 2.5 0 0 1 3.3 1.5" stroke-width="1.9"/>
<path d="M229.3 805.4H354.8a2 2 0 0 1 2 2" stroke-width="1.7"/>
<path d="M251.2 816.3L356.6 874.7" stroke-width="1.9"/>
<path d="M245.2 819.3L307.2 933.6a3 3 0 0 1 1.4 4" stroke-width="1.9"/>
<path d="M108.5 819.3V937.7" stroke-width="1.7"/>
<path d="M141.3 819.3V937.7" stroke-width="1.7"/>
<path d="M174 819.3V937.7" stroke-width="1.7"/>
<path d="M206.8 819.3V937.7" stroke-width="1.7"/>
<path d="M239.4 819.3V937.7" stroke-width="1.7"/>
<rect x="57.1" y="811" width="194.4" height="8.5" rx="4.2" ry="4.2" fill="#fff" stroke-width="1.7"/>
<path d="M66 810.4H230" stroke-width="2.6"/>
<path d="M62.3 811.5V819M246.5 811.5V819" stroke-width="1.2"/>
<g stroke="#777" stroke-width="0.7">
<circle cx="69.9" cy="815.2" r="1.4"/><circle cx="73.1" cy="815.2" r="1.4"/>
<circle cx="101.4" cy="815.2" r="1.4"/><circle cx="104.6" cy="815.2" r="1.4"/>
<circle cx="134.1" cy="815.2" r="1.4"/><circle cx="137.3" cy="815.2" r="1.4"/>
<circle cx="166.7" cy="815.2" r="1.4"/><circle cx="169.9" cy="815.2" r="1.4"/>
<circle cx="199.2" cy="815.2" r="1.4"/><circle cx="202.4" cy="815.2" r="1.4"/>
<circle cx="231.9" cy="815.2" r="1.4"/><circle cx="235.1" cy="815.2" r="1.4"/>
<circle cx="239.4" cy="815.2" r="1.4"/><circle cx="242.6" cy="815.2" r="1.4"/>
<circle cx="200.8" cy="688" r="1.3"/><circle cx="203.6" cy="688" r="1.3"/>
<circle cx="231.2" cy="688" r="1.3"/><circle cx="234" cy="688" r="1.3"/>
<circle cx="200.8" cy="804.5" r="1.3"/><circle cx="203.6" cy="804.5" r="1.3"/>
<circle cx="102.1" cy="932.5" r="1.3"/><circle cx="104.9" cy="932.5" r="1.3"/>
<circle cx="134.6" cy="932.5" r="1.3"/><circle cx="137.4" cy="932.5" r="1.3"/>
<circle cx="167.5" cy="932.5" r="1.3"/><circle cx="170.3" cy="932.5" r="1.3"/>
<circle cx="200.3" cy="932.5" r="1.3"/><circle cx="203.1" cy="932.5" r="1.3"/>
<circle cx="232.6" cy="932.5" r="1.3"/><circle cx="235.4" cy="932.5" r="1.3"/>
<circle cx="350.1" cy="811" r="1.3"/><circle cx="352.9" cy="811" r="1.3"/>
<circle cx="351.1" cy="723.5" r="1.3"/><circle cx="353.9" cy="723.5" r="1.3"/>
<circle cx="350.1" cy="884" r="1.3"/><circle cx="352.9" cy="884" r="1.3"/>
<circle cx="302.1" cy="688" r="1.3"/><circle cx="304.9" cy="688" r="1.3"/>
<circle cx="294.6" cy="932.5" r="1.3"/><circle cx="297.4" cy="932.5" r="1.3"/>
<circle cx="232.1" cy="803.5" r="1.3"/><circle cx="234.9" cy="803.5" r="1.3"/>
</g>
<g stroke="#333" stroke-width="1.3" stroke-dasharray="5 2.6">
<path d="M67.2 868.7H221.3M67.2 879.8H221.3"/>
<path d="M227.18 869.87L249.03 873.8"/>
<path d="M225.27 880.5L247.12 884.43"/>
<path d="M253.24 872.64L270.68 857.5"/>
<path d="M260.32 880.8L277.76 865.66"/>
<path d="M274.46 851.85L281.69 830.23"/>
<path d="M284.71 855.27L291.94 833.65"/>
<path d="M283 822.2L283 799.3"/>
<path d="M293.8 822.2L293.8 799.3"/>
<path d="M281.31 792.34L271.1 772.62"/>
<path d="M290.9 787.38L280.69 767.66"/>
<path d="M266.39 767.15L247.89 753.8"/>
<path d="M272.71 758.4L254.21 745.05"/>
<path d="M242 751.9L219.8 751.9"/>
<path d="M242 741.1L219.8 741.1"/>
</g>
<path d="M67.4 866V883" stroke-width="1.6"/>
<g stroke="#666" stroke-width="0.8" stroke-dasharray="3.5 2">
<rect x="178.6" y="863.6" width="21.2" height="21.2"/>
<rect x="277.6" y="784.8" width="21.2" height="19.4"/>
<rect x="267.6" y="847.3" width="20.7" height="21.1"/>
<rect x="200.6" y="732.4" width="27.8" height="27.8"/>
</g>
<circle cx="91" cy="874.3" r="7.3" stroke="#111" stroke-width="1.25" fill="#fff"/>
<circle cx="123.6" cy="874.3" r="7.3" stroke="#111" stroke-width="1.25" fill="#fff"/>
<circle cx="156.2" cy="874.3" r="7.3" stroke="#111" stroke-width="1.25" fill="#fff"/>
<circle cx="188.7" cy="874.3" r="7.3" stroke="#111" stroke-width="1.25" fill="#fff"/>
<circle cx="188.7" cy="874.3" r="5.7" stroke="#222" stroke-width="1.1"/>
<circle cx="221.3" cy="874.3" r="7.3" stroke="#111" stroke-width="1.25" fill="#fff"/>
<circle cx="253" cy="880" r="7.3" stroke="#111" stroke-width="1.25" fill="#fff"/>
<circle cx="278" cy="858.3" r="7.3" stroke="#111" stroke-width="1.25" fill="#fff"/>
<circle cx="278" cy="858.3" r="5.7" stroke="#222" stroke-width="1.1"/>
<circle cx="288.4" cy="827.2" r="7.3" stroke="#111" stroke-width="1.25" fill="#fff"/>
<circle cx="288.4" cy="794.3" r="7.3" stroke="#111" stroke-width="1.25" fill="#fff"/>
<circle cx="288.4" cy="794.3" r="5.7" stroke="#222" stroke-width="1.1"/>
<circle cx="273.6" cy="765.7" r="7.3" stroke="#111" stroke-width="1.25" fill="#fff"/>
<circle cx="247" cy="746.5" r="7.3" stroke="#111" stroke-width="1.25" fill="#fff"/>
<circle cx="214.8" cy="746.5" r="7.4" stroke="#333" stroke-width="1.2" stroke-dasharray="3.5 2" fill="#fff"/>
<g stroke="#444" stroke-width="0.8">
<path d="M86.7 781.2H169L191 864.6"/>
<path d="M467 756.6H384.4L296.8 788.9"/>
<path d="M467 901.5H383.6L285.5 862.6"/>
</g>
<g fill="#000" stroke="none"><path d="M191 864.6l-3.6 -6.6 2.6 -0.7z"/><path d="M296.8 788.9l6.6 -3.8 0.9 2.5z"/><path d="M285.5 862.6l7.3 1.5 -1 2.5z"/></g>
<circle cx="215" cy="711.9" r="10.5" stroke="#222" stroke-width="0.8" fill="#fff"/>
<circle cx="257.5" cy="711.9" r="10.5" stroke="#222" stroke-width="0.8" fill="#fff"/>
<circle cx="303.2" cy="736.1" r="10.5" stroke="#222" stroke-width="0.8" fill="#fff"/>
<circle cx="334.9" cy="791" r="10.5" stroke="#222" stroke-width="0.8" fill="#fff"/>
<circle cx="334.9" cy="828.4" r="10.5" stroke="#222" stroke-width="0.8" fill="#fff"/>
<circle cx="311.1" cy="905.3" r="10.5" stroke="#222" stroke-width="0.8" fill="#fff"/>
<circle cx="257.3" cy="914" r="10.5" stroke="#222" stroke-width="0.8" fill="#fff"/>
<circle cx="221.4" cy="914" r="10.5" stroke="#222" stroke-width="0.8" fill="#fff"/>
<circle cx="188.1" cy="914" r="10.5" stroke="#222" stroke-width="0.8" fill="#fff"/>
<circle cx="156.8" cy="914" r="14.5" stroke="#222" stroke-width="0.8" fill="#fff"/>
<circle cx="124.6" cy="914" r="14.5" stroke="#222" stroke-width="0.8" fill="#fff"/>
<circle cx="83.9" cy="914" r="14.5" stroke="#222" stroke-width="0.8" fill="#fff"/>
</g>
<g font-family="Liberation Sans, sans-serif" font-style="italic" font-size="17.4" fill="#000" text-anchor="middle">
<text x="215.8" y="718.1">1</text>
<text x="258.3" y="718.1">2</text>
<text x="304" y="742.3">3</text>
<text x="335.7" y="797.2">4</text>
<text x="335.7" y="834.6">5</text>
<text x="311.9" y="911.5">6</text>
<text x="258.1" y="920.2">7</text>
<text x="222.2" y="920.2">8</text>
<text x="188.9" y="920.2">9</text>
<text x="157.6" y="920.2">10</text>
<text x="125.4" y="920.2">11</text>
<text x="84.7" y="920.2">12</text>
</g>
<g font-family="Liberation Sans, sans-serif" font-style="italic" font-size="17.4" fill="#000">
<text x="89.5" y="760.6">Подпорка</text><text x="114.5" y="776.8">№3</text>
<text x="386.8" y="735.5">Подпорка</text><text x="412" y="752">№1</text>
<text x="386.8" y="880.7">Подпорка</text><text x="412" y="897.4">№2</text>
</g>
</svg>
</body></html>
